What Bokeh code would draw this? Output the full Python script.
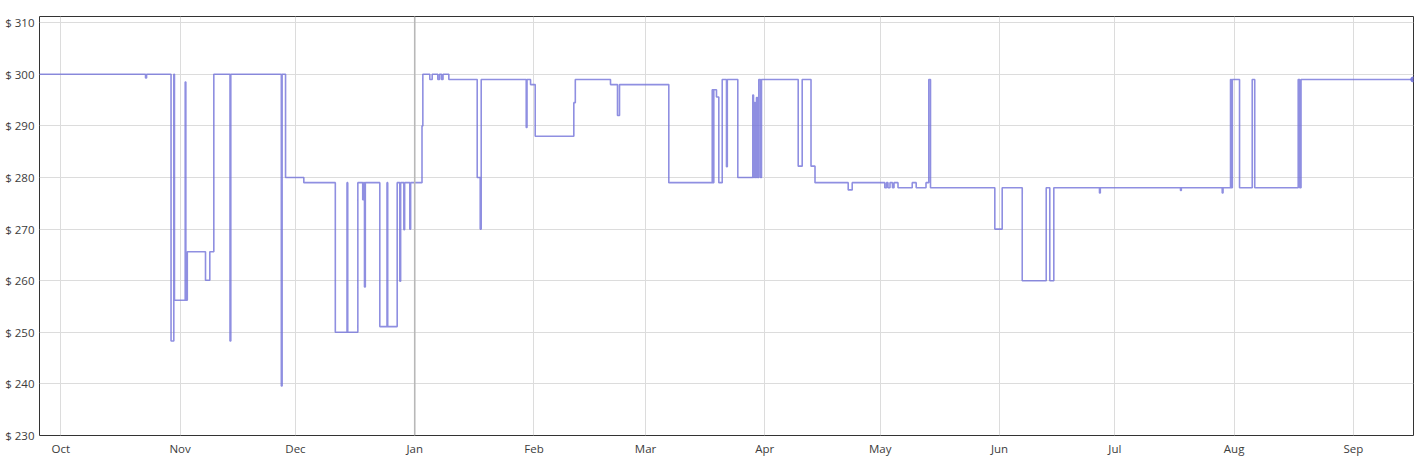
import pandas as pd
from bokeh.plotting import figure
from bokeh.models import Range1d, Span, FixedTicker, PrintfTickFormatter, DatetimeTickFormatter, MonthsTicker, ColumnDataSource
from bokeh.embed import file_html
from bokeh.resources import INLINE

# price history (step changes): timestamp of change -> new price
dates = [
    "2023-09-25 11:00", "2023-10-23 00:30", "2023-10-23 07:00", "2023-10-29 15:40", "2023-10-30 09:00",
    "2023-10-30 13:00", "2023-11-02 08:00", "2023-11-02 12:00", "2023-11-02 21:00", "2023-11-07 14:40",
    "2023-11-08 17:30", "2023-11-09 18:30", "2023-11-13 23:30", "2023-11-14 04:30", "2023-11-27 07:40",
    "2023-11-27 12:40", "2023-11-28 10:00", "2023-12-03 04:00", "2023-12-11 08:30", "2023-12-14 09:30",
    "2023-12-14 14:00", "2023-12-17 05:00", "2023-12-18 11:30", "2023-12-18 16:30", "2023-12-18 22:30",
    "2023-12-19 03:40", "2023-12-22 22:00", "2023-12-24 19:00", "2023-12-24 23:20", "2023-12-27 10:30",
    "2023-12-28 03:00", "2023-12-28 08:00", "2023-12-29 04:00", "2023-12-29 09:00", "2023-12-30 17:20",
    "2023-12-30 22:20", "2024-01-02 21:20", "2024-01-03 02:30", "2024-01-04 22:00", "2024-01-05 13:00",
    "2024-01-07 00:00", "2024-01-07 10:30", "2024-01-07 23:00", "2024-01-08 08:30", "2024-01-09 20:40",
    "2024-01-17 05:45", "2024-01-18 00:30", "2024-01-18 06:45", "2024-01-29 23:30", "2024-01-30 04:30",
    "2024-01-31 02:30", "2024-02-01 07:40", "2024-02-11 08:30", "2024-02-11 17:45", "2024-02-20 21:20",
    "2024-02-22 17:00", "2024-02-23 05:30", "2024-03-07 01:00", "2024-03-18 08:00", "2024-03-18 12:45",
    "2024-03-18 17:45", "2024-03-19 10:30", "2024-03-20 01:00", "2024-03-20 22:20", "2024-03-22 01:00",
    "2024-03-22 06:00", "2024-03-24 23:30", "2024-03-28 21:00", "2024-03-29 01:30", "2024-03-29 07:40",
    "2024-03-29 12:45", "2024-03-29 20:10", "2024-03-30 02:25", "2024-03-30 10:30", "2024-03-30 21:00",
    "2024-03-31 03:20", "2024-04-09 16:20", "2024-04-10 17:15", "2024-04-13 00:15", "2024-04-14 01:10",
    "2024-04-22 16:20", "2024-04-23 17:15", "2024-05-02 04:30", "2024-05-02 15:10", "2024-05-03 00:30",
    "2024-05-03 13:00", "2024-05-04 04:30", "2024-05-04 14:00", "2024-05-05 15:00", "2024-05-09 07:40",
    "2024-05-10 08:30", "2024-05-12 21:40", "2024-05-13 15:00", "2024-05-14 01:40", "2024-05-30 19:00",
    "2024-06-01 17:00", "2024-06-06 22:00", "2024-06-13 03:40", "2024-06-14 02:00", "2024-06-15 03:00",
    "2024-06-27 00:00", "2024-06-27 05:00", "2024-07-18 01:30", "2024-07-18 06:30", "2024-07-28 21:40",
    "2024-07-29 02:40", "2024-07-31 01:30", "2024-07-31 07:40", "2024-07-31 12:45", "2024-08-02 09:40",
    "2024-08-05 16:50", "2024-08-06 08:30", "2024-08-17 15:40", "2024-08-18 01:10", "2024-08-18 09:20",
    "2024-09-16 13:10",
]
prices = [
    300, 299.3, 300, 248.3, 300,
    256.2, 298.5, 256.2, 265.6, 260.1,
    265.6, 300, 248.3, 300, 239.6,
    300, 280, 279, 250, 279,
    250, 279, 275.7, 279, 258.8,
    279, 251.1, 279, 251.1, 279,
    259.9, 279, 269.9, 279, 270,
    279, 290, 300, 299, 300,
    299, 300, 299, 300, 299,
    280, 270, 299, 289.7, 299,
    298, 288, 294.5, 299, 298,
    292, 298, 279, 297, 279,
    297, 295.6, 279, 299, 282.1,
    299, 280, 296, 280, 294.5,
    280, 295.5, 280, 299, 280,
    299, 282.2, 299, 282.2, 279,
    277.6, 279, 278, 279, 278,
    279, 278, 279, 278, 279,
    278, 279, 299, 278, 270,
    278, 260, 278, 260, 278,
    277, 278, 277.5, 278, 277,
    278, 299, 278, 299, 278,
    299, 278, 299, 278, 299,
    299,
]
y_ticks = [230, 240, 250, 260, 270, 280, 290, 300, 310]
x_start = "2023-09-25 11:00"
x_end = "2024-09-16 15:00"
year_mark = "2024-01-01"

x = pd.to_datetime(dates)
src = ColumnDataSource(dict(x=x, y=prices))

p = figure(width=1424, height=458, x_axis_type="datetime",
           output_backend="svg", toolbar_location=None,
           x_range=Range1d(pd.Timestamp(x_start), pd.Timestamp(x_end)),
           y_range=Range1d(230, 311.2),
           min_border_left=39, min_border_right=11, min_border_top=16, min_border_bottom=21)

p.background_fill_color = "white"
p.border_fill_color = "white"
p.outline_line_color = "#333333"
p.outline_line_width = 1

LINE = "#7373d9"
p.step("x", "y", source=src, mode="after", line_color=LINE, line_alpha=0.8, line_width=1.6)
p.scatter([x[-1]], [prices[-1]], size=5, color=LINE, alpha=0.85)

jan = Span(location=pd.Timestamp(year_mark).value / 1e6, dimension="height",
           line_color="#b8b8b8", line_width=1.6)
p.add_layout(jan)

# grids
for g in (p.xgrid, p.ygrid):
    g.grid_line_color = "#dcdcdc"
    g.grid_line_width = 1

# axes
p.xaxis.ticker = MonthsTicker(months=list(range(12)))
p.xaxis.formatter = DatetimeTickFormatter(months="%b", days="%b", years="%b", hours="%b")
p.yaxis.ticker = FixedTicker(ticks=y_ticks)
p.yaxis.formatter = PrintfTickFormatter(format="$ %d")
for ax in (p.xaxis, p.yaxis):
    ax.axis_line_color = None
    ax.major_tick_line_color = None
    ax.minor_tick_line_color = None
    ax.major_tick_out = 0
    ax.major_tick_in = 0
    ax.major_label_text_font = "Open Sans"
    ax.major_label_text_font_size = "11.5px"
    ax.major_label_text_color = "#3c3c3c"
p.yaxis.major_label_standoff = 5
p.xaxis.major_label_standoff = 5

open("out.html", "w").write(file_html(p, INLINE))
